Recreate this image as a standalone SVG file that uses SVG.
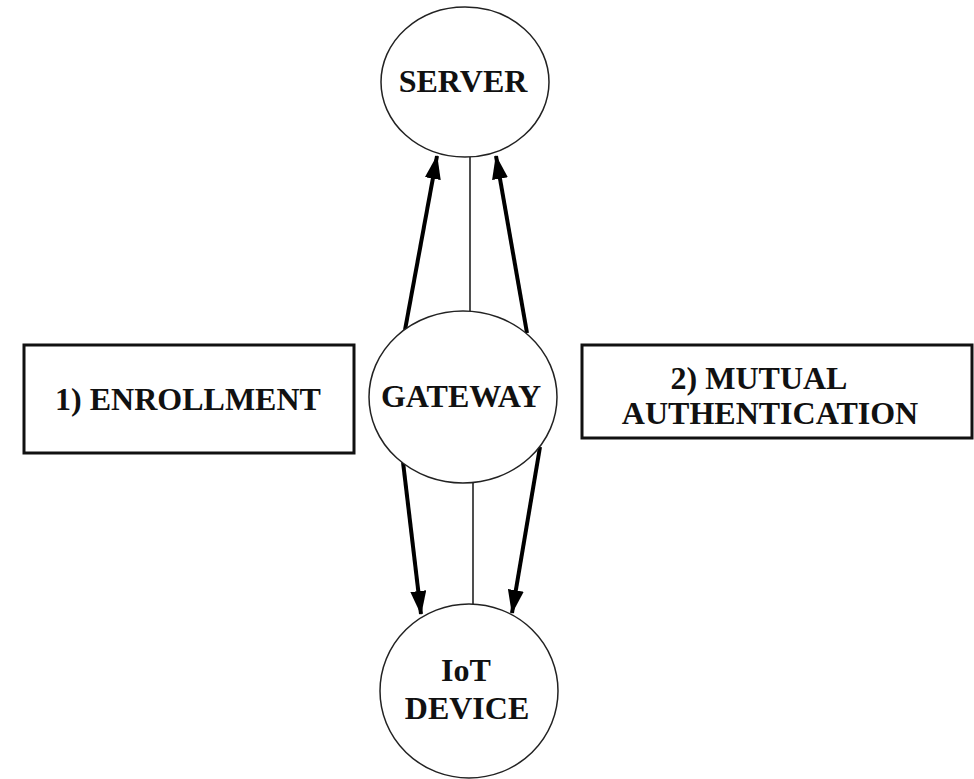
<svg xmlns="http://www.w3.org/2000/svg" width="974" height="779" viewBox="0 0 974 779">
<style>
.node{fill:#fff;stroke:#222;stroke-width:1.5}
.box{fill:#fff;stroke:#111;stroke-width:3}
.t{font-family:"Liberation Serif","Times New Roman",serif;font-weight:bold;font-size:32px;fill:#111;text-anchor:middle}
.thin{stroke:#222;stroke-width:1.6;fill:none}
.arr{stroke:#000;stroke-width:4;fill:none;marker-end:url(#ah)}
</style>
<defs>
<marker id="ah" markerUnits="userSpaceOnUse" markerWidth="24" markerHeight="16" refX="23" refY="8" orient="auto">
<path d="M0,0 L24,8 L0,16 Z" fill="#000"/>
</marker>
</defs>
<rect width="974" height="779" fill="#fff"/>
<g id="connectors">
<line class="thin" x1="470" y1="157" x2="470" y2="311"/>
<line class="thin" x1="473" y1="483" x2="473" y2="604"/>
<path class="arr" d="M405,330 L437,156"/>
<path class="arr" d="M527,333 L496,156"/>
<path class="arr" d="M403,462 L421,614"/>
<path class="arr" d="M540,447 L512,613"/>
</g>
<g id="server">
<ellipse class="node" cx="465" cy="82" rx="84" ry="75"/>
<text class="t" x="463" y="92">SERVER</text>
</g>
<g id="gateway">
<ellipse class="node" cx="463" cy="397" rx="94" ry="86"/>
<text class="t" x="461" y="407">GATEWAY</text>
</g>
<g id="iot">
<ellipse class="node" cx="469" cy="691" rx="89" ry="87"/>
<text class="t" x="466" y="681">IoT</text>
<text class="t" x="467" y="719">DEVICE</text>
</g>
<g id="enrollment">
<rect class="box" x="24" y="345" width="330" height="108"/>
<text class="t" x="188" y="410">1) ENROLLMENT</text>
</g>
<g id="mutual">
<rect class="box" x="582" y="345" width="390" height="93"/>
<text class="t" x="759" y="389">2) MUTUAL</text>
<text class="t" x="770" y="424">AUTHENTICATION</text>
</g>
</svg>
